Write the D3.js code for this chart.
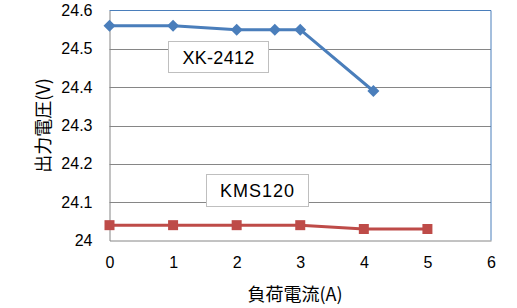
<!DOCTYPE html>
<html><head><meta charset="utf-8">
<script src="https://cdn.jsdelivr.net/npm/d3@7"></script>
<style>body{margin:0;background:#fff}svg{display:block}</style>
</head><body>
<script>
const xkX = [0, 1, 2, 2.6, 3, 4.15];
const xkY = [24.56, 24.56, 24.55, 24.55, 24.55, 24.39];
const kmsX = [0, 1, 2, 3, 4, 5];
const kmsY = [24.04, 24.04, 24.04, 24.04, 24.03, 24.03];
const xTicks = [0, 1, 2, 3, 4, 5, 6];
const yTicks = [24, 24.1, 24.2, 24.3, 24.4, 24.5, 24.6];
const labels = ["XK-2412", "KMS120"];
const xTitle = "負荷電流(A)";
const yTitle = "出力電圧(V)";

const W = 517, H = 308;
const L = 109.5, R = 491, T = 10.5, B = 240.5;
const svg = d3.select("body").append("svg").attr("width", W).attr("height", H);
const x = d3.scaleLinear().domain([0, 6]).range([L, R]);
const y = d3.scaleLinear().domain([24, 24.6]).range([B, T]);
const numFont = "'Liberation Sans', Arial, sans-serif";
const jpFont = "'Noto Sans CJK JP', sans-serif";

// gridlines
svg.append("g").selectAll("line").data(yTicks.filter(d => d > 24 && d < 24.6)).join("line")
  .attr("x1", L).attr("x2", R).attr("y1", d => Math.round(y(d)) + 0.5).attr("y2", d => Math.round(y(d)) + 0.5)
  .attr("stroke", "#868686").attr("stroke-width", 1);

// plot border top/right blue
svg.append("line").attr("x1", L).attr("x2", R).attr("y1", T).attr("y2", T).attr("stroke", "#4a7ebb");
svg.append("line").attr("x1", R).attr("x2", R).attr("y1", T).attr("y2", B).attr("stroke", "#4a7ebb");

// axes
const yAxis = svg.append("g").attr("transform", `translate(${L},0)`)
  .call(d3.axisLeft(y).tickValues(yTicks).tickSize(0).tickPadding(17).tickFormat(d => d3.format("")(+d.toFixed(1))));
yAxis.select(".domain").attr("stroke", "#868686");
yAxis.selectAll("text").attr("font-family", numFont).attr("font-size", 16).attr("fill", "#000");
const xAxis = svg.append("g").attr("transform", `translate(0,${B})`)
  .call(d3.axisBottom(x).tickValues(xTicks).tickSize(0).tickPadding(16).tickFormat(d3.format("d")));
xAxis.select(".domain").attr("stroke", "#868686");
xAxis.selectAll("text").attr("font-family", numFont).attr("font-size", 16).attr("fill", "#000");

// series
const line = d3.line().x(d => x(d[0])).y(d => y(d[1]));
const xk = xkX.map((v, i) => [v, xkY[i]]);
const kms = kmsX.map((v, i) => [v, kmsY[i]]);
svg.append("path").datum(xk).attr("d", line).attr("fill", "none").attr("stroke", "#4a7ebb").attr("stroke-width", 3).attr("stroke-linejoin", "round");
svg.append("path").datum(kms).attr("d", line).attr("fill", "none").attr("stroke", "#be4b48").attr("stroke-width", 3).attr("stroke-linejoin", "round");
svg.append("g").selectAll("path").data(xk).join("path")
  .attr("transform", d => `translate(${x(d[0])},${y(d[1])})`)
  .attr("d", "M0,-6L6,0L0,6L-6,0Z").attr("fill", "#4a7ebb");
svg.append("g").selectAll("rect").data(kms).join("rect")
  .attr("x", d => x(d[0]) - 5).attr("y", d => y(d[1]) - 5).attr("width", 10).attr("height", 10).attr("fill", "#be4b48");

// label boxes
const boxes = [{t: labels[0], x0: 168.5, y0: 41.5, w: 100, h: 31, ls: 0.3}, {t: labels[1], x0: 206.5, y0: 174.5, w: 102, h: 32, ls: 1}];
boxes.forEach(b => {
  svg.append("rect").attr("x", b.x0).attr("y", b.y0).attr("width", b.w).attr("height", b.h)
    .attr("fill", "#fff").attr("stroke", "#bfbfbf");
  svg.append("text").attr("x", b.x0 + b.w / 2).attr("y", b.y0 + b.h / 2 + 6.5).attr("text-anchor", "middle")
    .attr("font-family", numFont).attr("font-size", 18).attr("letter-spacing", b.ls).attr("fill", "#000").text(b.t);
});

// titles
svg.append("text").attr("x", 295).attr("y", 301).attr("text-anchor", "middle")
  .attr("font-family", jpFont).attr("font-size", 18).attr("fill", "#000").text(xTitle);
svg.append("text").attr("transform", "translate(50,125.5) rotate(-90)").attr("text-anchor", "middle")
  .attr("font-family", jpFont).attr("font-size", 18).attr("fill", "#000").text(yTitle);
</script>
</body></html>
